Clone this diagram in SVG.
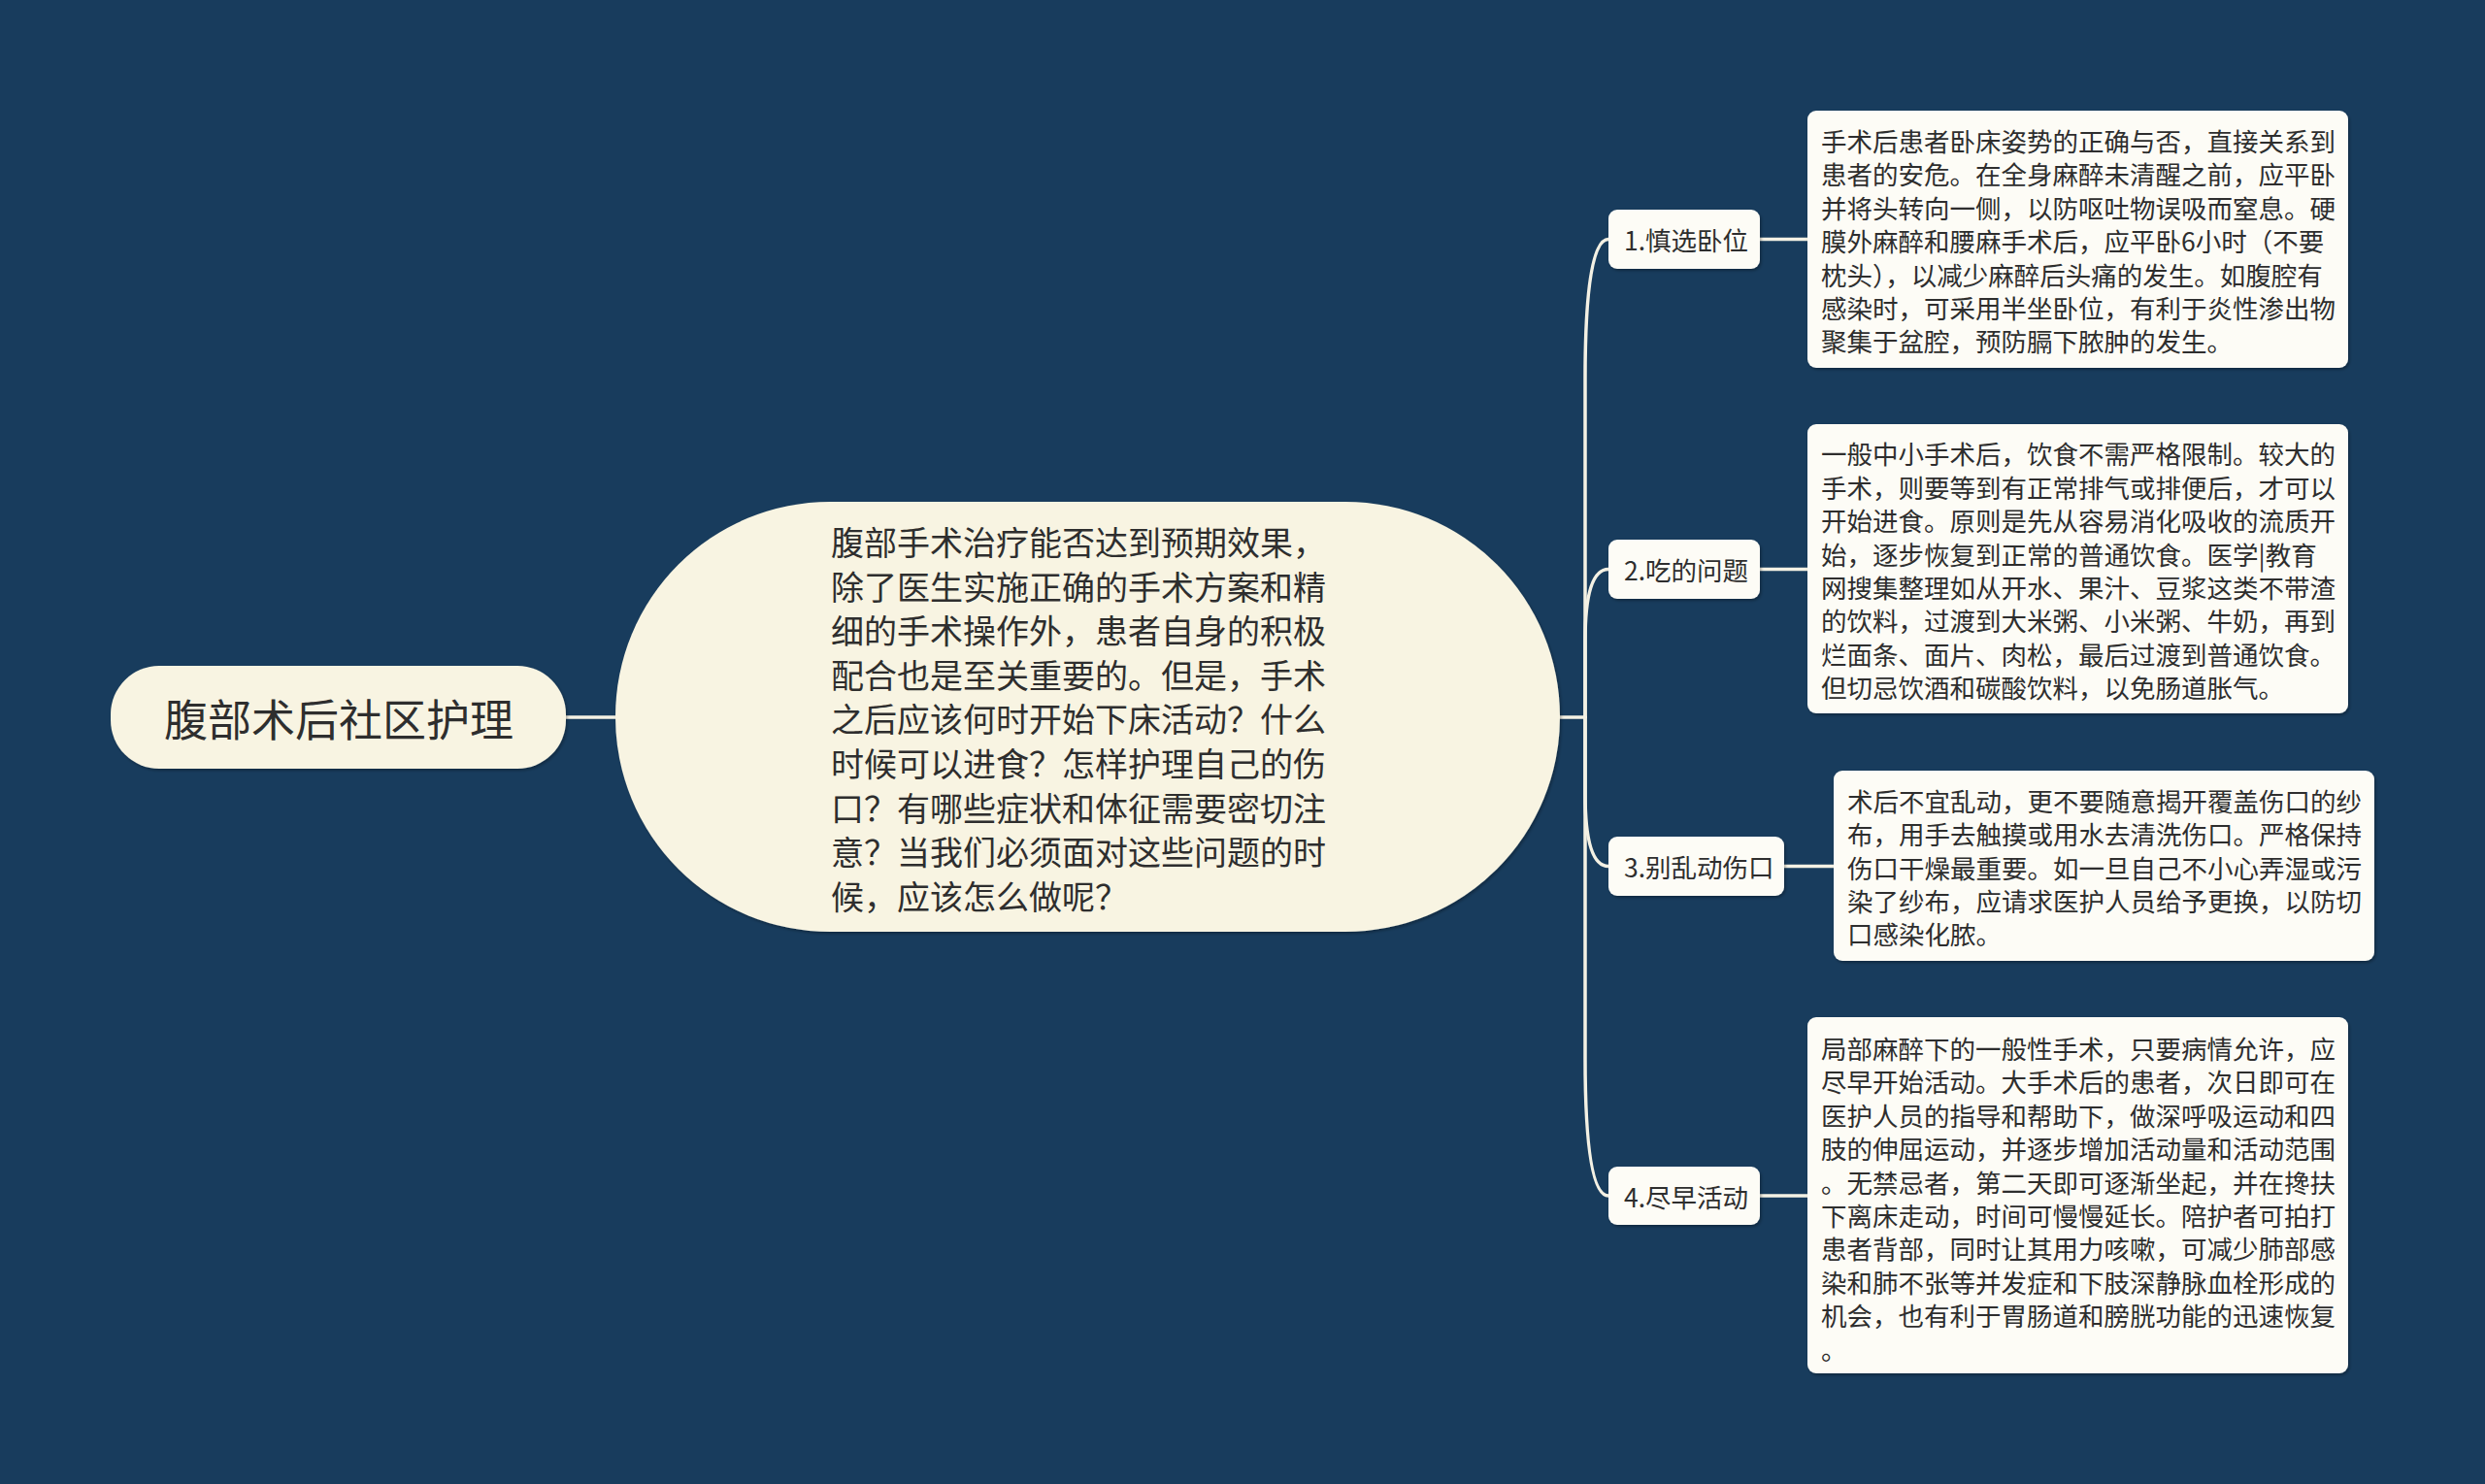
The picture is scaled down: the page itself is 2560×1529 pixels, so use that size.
<svg xmlns="http://www.w3.org/2000/svg" width="2560" height="1529" viewBox="0 0 2560 1529">
<style>
.bg{fill:#183c5d}
.cream{fill:#f8f4e2}
.box{fill:#fdfcf6}
.t{font-family:"Noto Sans CJK SC","Noto Sans",sans-serif;fill:#2e2e2e;dominant-baseline:central}
.sm{font-size:26.5px}
.md{font-size:34px}
.lg{font-size:45px}
.conn{fill:none;stroke:#f4f1e4;stroke-width:3.5;stroke-linecap:round}
</style>
<defs>
<filter id="sh" x="-5%" y="-5%" width="110%" height="115%">
<feDropShadow dx="1.5" dy="2" stdDeviation="1.5" flood-color="#000" flood-opacity="0.3"/>
</filter>
</defs>
<rect class="bg" x="0" y="0" width="2560" height="1529"/>
<g id="connectors">
<path class="conn" d="M583,739 L634,739"/>
<path class="conn" d="M1607,739 L1633,739"/>
<path class="conn" d="M1633,739 L1633,390 Q1633,246.5 1657,246.5"/>
<path class="conn" d="M1633,739 L1633,660 Q1633,586.5 1657,586.5"/>
<path class="conn" d="M1633,739 L1633,818 Q1633,892.5 1657,892.5"/>
<path class="conn" d="M1633,739 L1633,1090 Q1633,1232 1657,1232"/>
<path class="conn" d="M1813,246.5 L1862,246.5"/>
<path class="conn" d="M1813,586.5 L1862,586.5"/>
<path class="conn" d="M1838,892.5 L1889,892.5"/>
<path class="conn" d="M1813,1232 L1862,1232"/>
</g>
<g id="root">
<rect class="cream" x="114" y="686" width="469" height="106" rx="50" ry="50" filter="url(#sh)"/>
<text class="t lg" x="349" y="739" text-anchor="middle">腹部术后社区护理</text>
</g>
<g id="intro">
<rect class="cream" x="634" y="517" width="973" height="443" rx="221" ry="221" filter="url(#sh)"/>
<text class="t md" x="856">
<tspan x="856" y="557">腹部手术治疗能否达到预期效果，</tspan>
<tspan x="856" y="602.6">除了医生实施正确的手术方案和精</tspan>
<tspan x="856" y="648.2">细的手术操作外，患者自身的积极</tspan>
<tspan x="856" y="693.8">配合也是至关重要的。但是，手术</tspan>
<tspan x="856" y="739.4">之后应该何时开始下床活动？什么</tspan>
<tspan x="856" y="785">时候可以进食？怎样护理自己的伤</tspan>
<tspan x="856" y="830.6">口？有哪些症状和体征需要密切注</tspan>
<tspan x="856" y="876.2">意？当我们必须面对这些问题的时</tspan>
<tspan x="856" y="921.8">候，应该怎么做呢？</tspan>
</text>
</g>
<g id="n1">
<rect class="box" x="1657" y="216" width="156" height="61" rx="9" filter="url(#sh)"/>
<text class="t sm" x="1673" y="246.5">1.慎选卧位</text>
</g>
<g id="d1">
<rect class="box" x="1862" y="114" width="557" height="265" rx="9" filter="url(#sh)"/>
<text class="t sm">
<tspan x="1876" y="144">手术后患者卧床姿势的正确与否，直接关系到</tspan>
<tspan x="1876" y="178.4">患者的安危。在全身麻醉未清醒之前，应平卧</tspan>
<tspan x="1876" y="212.8">并将头转向一侧，以防呕吐物误吸而窒息。硬</tspan>
<tspan x="1876" y="247.2">膜外麻醉和腰麻手术后，应平卧6小时（不要</tspan>
<tspan x="1876" y="281.6">枕头），以减少麻醉后头痛的发生。如腹腔有</tspan>
<tspan x="1876" y="316">感染时，可采用半坐卧位，有利于炎性渗出物</tspan>
<tspan x="1876" y="350.4">聚集于盆腔，预防膈下脓肿的发生。</tspan>
</text>
</g>
<g id="n2">
<rect class="box" x="1657" y="556" width="156" height="61" rx="9" filter="url(#sh)"/>
<text class="t sm" x="1673" y="586.5">2.吃的问题</text>
</g>
<g id="d2">
<rect class="box" x="1862" y="437" width="557" height="298" rx="9" filter="url(#sh)"/>
<text class="t sm">
<tspan x="1876" y="466.3">一般中小手术后，饮食不需严格限制。较大的</tspan>
<tspan x="1876" y="500.7">手术，则要等到有正常排气或排便后，才可以</tspan>
<tspan x="1876" y="535.1">开始进食。原则是先从容易消化吸收的流质开</tspan>
<tspan x="1876" y="569.5">始，逐步恢复到正常的普通饮食。医学|教育</tspan>
<tspan x="1876" y="603.9">网搜集整理如从开水、果汁、豆浆这类不带渣</tspan>
<tspan x="1876" y="638.3">的饮料，过渡到大米粥、小米粥、牛奶，再到</tspan>
<tspan x="1876" y="672.7">烂面条、面片、肉松，最后过渡到普通饮食。</tspan>
<tspan x="1876" y="707.1">但切忌饮酒和碳酸饮料，以免肠道胀气。</tspan>
</text>
</g>
<g id="n3">
<rect class="box" x="1657" y="862" width="181" height="61" rx="9" filter="url(#sh)"/>
<text class="t sm" x="1673" y="892.5">3.别乱动伤口</text>
</g>
<g id="d3">
<rect class="box" x="1889" y="794" width="557" height="196" rx="9" filter="url(#sh)"/>
<text class="t sm">
<tspan x="1903" y="823.7">术后不宜乱动，更不要随意揭开覆盖伤口的纱</tspan>
<tspan x="1903" y="858.1">布，用手去触摸或用水去清洗伤口。严格保持</tspan>
<tspan x="1903" y="892.5">伤口干燥最重要。如一旦自己不小心弄湿或污</tspan>
<tspan x="1903" y="926.9">染了纱布，应请求医护人员给予更换，以防切</tspan>
<tspan x="1903" y="961.3">口感染化脓。</tspan>
</text>
</g>
<g id="n4">
<rect class="box" x="1657" y="1202" width="156" height="60" rx="9" filter="url(#sh)"/>
<text class="t sm" x="1673" y="1232">4.尽早活动</text>
</g>
<g id="d4">
<rect class="box" x="1862" y="1048" width="557" height="367" rx="9" filter="url(#sh)"/>
<text class="t sm">
<tspan x="1876" y="1079">局部麻醉下的一般性手术，只要病情允许，应</tspan>
<tspan x="1876" y="1113.4">尽早开始活动。大手术后的患者，次日即可在</tspan>
<tspan x="1876" y="1147.8">医护人员的指导和帮助下，做深呼吸运动和四</tspan>
<tspan x="1876" y="1182.2">肢的伸屈运动，并逐步增加活动量和活动范围</tspan>
<tspan x="1876" y="1216.6">。无禁忌者，第二天即可逐渐坐起，并在搀扶</tspan>
<tspan x="1876" y="1251">下离床走动，时间可慢慢延长。陪护者可拍打</tspan>
<tspan x="1876" y="1285.4">患者背部，同时让其用力咳嗽，可减少肺部感</tspan>
<tspan x="1876" y="1319.8">染和肺不张等并发症和下肢深静脉血栓形成的</tspan>
<tspan x="1876" y="1354.2">机会，也有利于胃肠道和膀胱功能的迅速恢复</tspan>
<tspan x="1876" y="1388.6">。</tspan>
</text>
</g>
</svg>
